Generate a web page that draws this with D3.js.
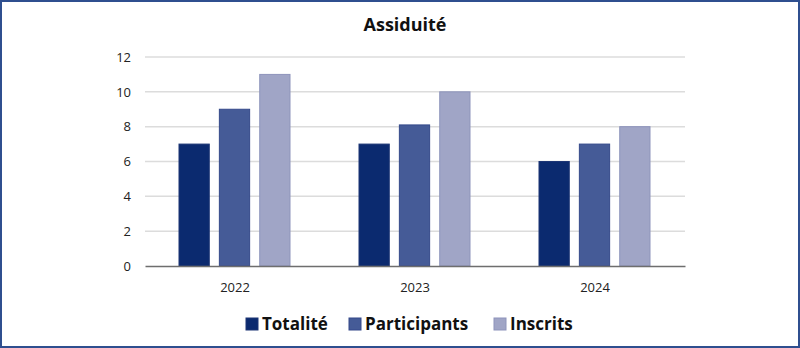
<!DOCTYPE html>
<html>
<head>
<meta charset="utf-8">
<script src="https://cdn.jsdelivr.net/npm/d3@7"></script>
<style>
  html, body { margin: 0; padding: 0; background: #fff; }
  svg { display: block; font-family: 'Open Sans', 'Noto Sans', sans-serif; }
</style>
</head>
<body>
<svg id="chart" width="800" height="348"></svg>
<script>
// ── Data ─────────────────────────────────────────────
const years = ['2022', '2023', '2024'];
const seriesNames = ['Totalité', 'Participants', 'Inscrits'];
const totalite = [7, 7, 6];
const participants = [9, 8.1, 7];
const inscrits = [11, 10, 8];
const yTicks = [0, 2, 4, 6, 8, 10, 12];

const seriesColors = ['#0b2a6f', '#455b97', '#a0a5c6'];
const seriesStroke = ['#1c3575', '#34498a', '#8e94bb'];
const values = [totalite, participants, inscrits];

// ── Setup ────────────────────────────────────────────
const svg = d3.select('#chart');
const W = 800, H = 348;
const plot = { left: 145, right: 685, top: 57, bottom: 266 };

svg.append('rect')
  .attr('x', 1).attr('y', 1)
  .attr('width', W - 2).attr('height', H - 2)
  .attr('fill', '#fff')
  .attr('stroke', '#2f4f8f')
  .attr('stroke-width', 2);

const x0 = d3.scaleBand().domain(years).range([plot.left, plot.right]).paddingInner(0).paddingOuter(0);
const x1 = d3.scaleBand().domain(seriesNames).range([0, 111]).paddingInner(0.25);
const y = d3.scaleLinear().domain([0, 12]).range([plot.bottom, plot.top]);

// Title
svg.append('text')
  .attr('x', 405).attr('y', 31)
  .attr('text-anchor', 'middle')
  .attr('font-size', 18).attr('font-weight', 700)
  .attr('fill', '#111')
  .text('Assiduité');

// Gridlines
svg.append('g')
  .selectAll('line')
  .data(yTicks.filter(t => t > 0))
  .join('line')
  .attr('x1', plot.left).attr('x2', plot.right)
  .attr('y1', d => y(d)).attr('y2', d => y(d))
  .attr('stroke', '#dcdcdc').attr('stroke-width', 1.5);

// Y axis labels
const yAxis = d3.axisLeft(y).tickValues(yTicks).tickSize(0).tickPadding(14);
svg.append('g')
  .attr('transform', `translate(${plot.left},0)`)
  .call(yAxis)
  .call(g => g.select('.domain').remove())
  .call(g => g.selectAll('text')
    .attr('font-size', 13).attr('fill', '#222')
    .attr('font-family', "'Open Sans', sans-serif"));

// Bars
const groups = svg.append('g')
  .selectAll('g')
  .data(years)
  .join('g')
  .attr('transform', d => `translate(${x0(d) + x0.bandwidth() / 2 - 56},0)`);

groups.selectAll('rect')
  .data((d, i) => seriesNames.map((s, j) => ({ s, j, v: values[j][i] })))
  .join('rect')
  .attr('x', d => x1(d.s))
  .attr('width', x1.bandwidth())
  .attr('y', d => y(d.v))
  .attr('height', d => y(0) - y(d.v))
  .attr('fill', d => seriesColors[d.j])
  .attr('stroke', d => seriesStroke[d.j])
  .attr('stroke-width', 1);

// X axis
const xAxis = d3.axisBottom(x0).tickSize(0).tickPadding(17);
svg.append('g')
  .attr('transform', `translate(0,${plot.bottom})`)
  .call(xAxis)
  .call(g => g.select('.domain').attr('stroke', '#6e6e6e').attr('stroke-width', 1.5))
  .call(g => g.selectAll('text')
    .attr('font-size', 13).attr('fill', '#222')
    .attr('font-family', "'Open Sans', sans-serif"));

// Legend
const legendX = [246, 349, 494];
const legend = svg.append('g')
  .selectAll('g')
  .data(seriesNames)
  .join('g')
  .attr('transform', (d, i) => `translate(${legendX[i]},318)`);

legend.append('rect')
  .attr('width', 12).attr('height', 12)
  .attr('fill', (d, i) => seriesColors[i])
  .attr('stroke', (d, i) => seriesStroke[i]);

legend.append('text')
  .attr('x', 16).attr('y', 12)
  .attr('font-size', 17).attr('font-weight', 700)
  .attr('fill', '#111')
  .text(d => d);
</script>
</body>
</html>
